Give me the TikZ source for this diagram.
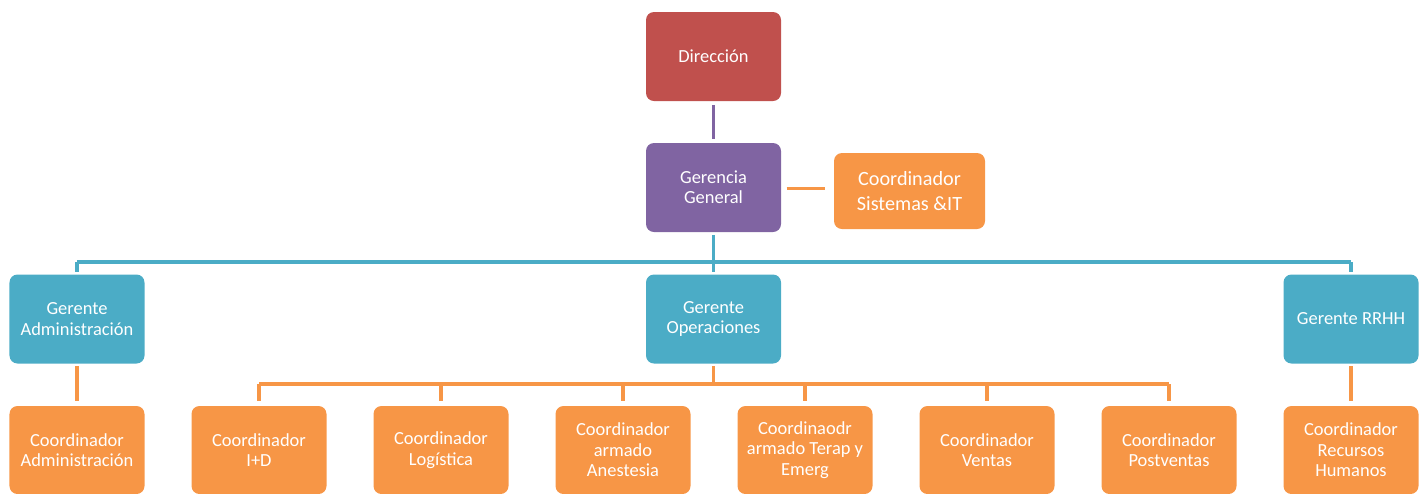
\documentclass[tikz,border=0pt]{standalone}
\usepackage{fontspec}
\setmainfont{Carlito}
\usepackage{xcolor}
\usepackage{tikz}
\usetikzlibrary{positioning, calc}

\definecolor{dirred}{HTML}{C0504D}
\definecolor{ggpurple}{HTML}{8064A2}
\definecolor{gerblue}{HTML}{4BACC6}
\definecolor{coorange}{HTML}{F79646}

\begin{document}
\begin{tikzpicture}[
  box/.style={rectangle, draw=none, rounded corners=0.16cm, text=white,
              align=center, minimum width=2.7cm, minimum height=1.78cm,
              font=\fontsize{10.5}{11.6}\selectfont},
  dirbox/.style={box, fill=dirred},
  ggbox/.style={box, fill=ggpurple},
  gerbox/.style={box, fill=gerblue},
  coorbox/.style={box, fill=coorange, minimum height=1.76cm},
  link/.style={line width=2.1pt}
]
  \useasboundingbox (0,0) rectangle (28.48,-9.86);

  % top
  \node[dirbox] (dir) at (14.27,-1.13) {Dirección};
  \node[ggbox] (gg) at (14.27,-3.75) {Gerencia\\General};
  \node[coorbox, minimum width=3.02cm, minimum height=1.52cm,
        font=\fontsize{11.5}{14}\selectfont] (sis) at (18.19,-3.82) {Coordinador\\Sistemas \&IT};

  % gerentes
  \node[gerbox] (ga) at (1.54,-6.38) {Gerente\\Administración};
  \node[gerbox] (go) at (14.27,-6.38) {Gerente\\Operaciones};
  \node[gerbox] (gr) at (27.02,-6.38) {Gerente RRHH};

  % coordinadores
  \node[coorbox] (ca) at (1.54,-9.0) {Coordinador\\Administración};
  \foreach \n/\x/\t in {c1/5.18/{Coordinador\\I+D},
                         c2/8.82/{Coordinador\\Logística},
                         c3/12.46/{Coordinador\\armado\\Anestesia},
                         c4/16.10/{Coordinaodr\\armado Terap y\\Emerg},
                         c5/19.74/{Coordinador\\Ventas},
                         c6/23.38/{Coordinador\\Postventas}}
    \node[coorbox] (\n) at (\x,-9.0) {\t};
  \node[coorbox] (cr) at (27.02,-9.0) {Coordinador\\Recursos\\Humanos};

  \coordinate (bus) at (0,-5.24);
  \coordinate (obus) at (0,-7.68);

  \draw[link, ggpurple, shorten <=2pt, shorten >=2pt] (dir) -- (gg);
  \draw[link, coorange, shorten <=3pt, shorten >=5pt] (gg.east |- sis.west) ++(0,0.05)
        coordinate (gge) (gge) -- (sis.west |- gge);

  % blue tree
  \draw[link, gerblue, shorten <=1.5pt] (gg.south) -- (gg.south |- bus);
  \draw[link, gerblue] (ga.north |- bus) -- (gr.north |- bus);
  \foreach \g in {ga,go,gr}
    \draw[link, gerblue, shorten >=1.5pt] (\g.north |- bus) -- (\g.north);

  % orange tree
  \draw[link, coorange, shorten <=1.5pt, shorten >=2.5pt] (ga) -- (ca);
  \draw[link, coorange, shorten <=1.5pt, shorten >=2.5pt] (gr) -- (cr);
  \draw[link, coorange, shorten <=1.5pt] (go.south) -- (go.south |- obus);
  \draw[link, coorange] (c1.north |- obus) -- (c6.north |- obus);
  \foreach \c in {c1,c2,c3,c4,c5,c6}
    \draw[link, coorange, shorten >=2.5pt] (\c.north |- obus) -- (\c.north);
\end{tikzpicture}
\end{document}
